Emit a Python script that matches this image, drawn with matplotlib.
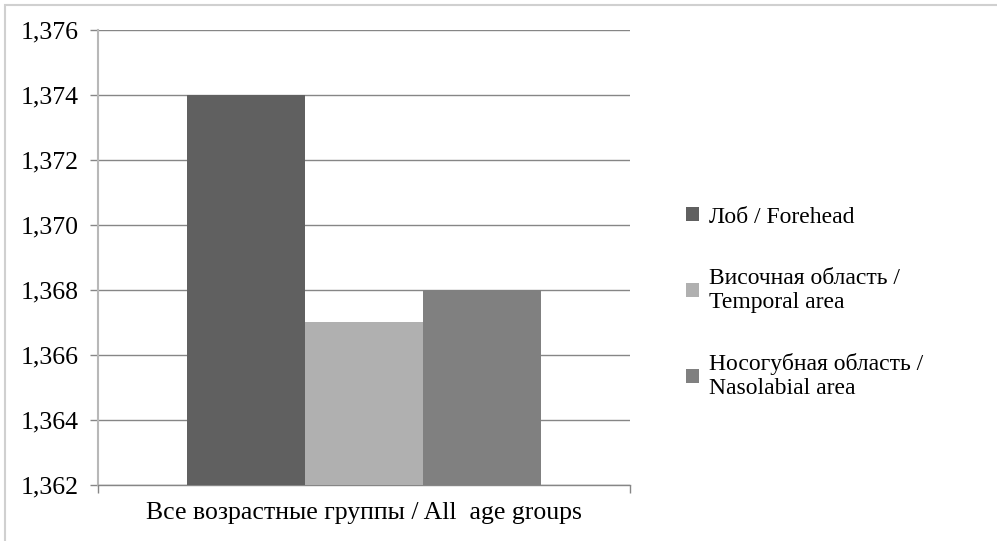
import matplotlib as mpl
mpl.use('Agg')
import matplotlib.pyplot as plt
from matplotlib.patches import Rectangle
from matplotlib.ticker import FuncFormatter, MultipleLocator

category = 'Все возрастные группы / All  age groups'
series = ['Лоб / Forehead',
          'Височная область /\nTemporal area',
          'Носогубная область /\nNasolabial area']
values = [1.374, 1.367, 1.368]
colors = ['#606060', '#b0b0b0', '#808080']

plt.rcParams['font.family'] = ['Liberation Serif', 'DejaVu Serif']

fig = plt.figure(figsize=(9.97, 5.41), dpi=100)
ax = fig.add_axes([98/997, 1-485/541, 532/997, 455/541])

# outer chart frame
fig.patches.append(Rectangle((5/997, -0.1), 1.2, 1-5/541+0.1, transform=fig.transFigure,
                             fill=False, edgecolor='#d0d0d0', linewidth=1.5))

ymin = 1.362
bw = 0.222
for i, (lab, v, c) in enumerate(zip(series, values, colors)):
    ax.bar((i-1)*bw, v-ymin, bottom=ymin, width=bw, color=c, label=lab, zorder=3)

ax.set_xlim(-0.5, 0.5)
ax.set_ylim(1.362, 1.376)
ax.yaxis.set_major_locator(MultipleLocator(0.002))
ax.yaxis.set_major_formatter(FuncFormatter(lambda v, p: f'{v:.3f}'.replace('.', ',')))
ax.grid(axis='y', color='#868686', linewidth=1.0, zorder=0)

for s in ['top', 'right']:
    ax.spines[s].set_visible(False)
ax.spines['left'].set_color('#b8b8b8')
ax.spines['left'].set_linewidth(1.5)
ax.spines['bottom'].set_color('#868686')
ax.spines['bottom'].set_linewidth(1.0)

ax.tick_params(axis='y', length=6, width=1, color='#868686', pad=8, labelsize=18.5)
ax.set_xticks([0])
ax.set_xticklabels([category])
ax.set_xticks([-0.5, 0.5], minor=True)
ax.tick_params(axis='x', which='major', length=0, pad=12, labelsize=18.5)
ax.tick_params(axis='x', which='minor', length=6, width=1, color='#868686')

leg = ax.legend(loc='center left', bbox_to_anchor=(1.105, 0.40), frameon=False,
                fontsize=17, handlelength=0.55, handleheight=0.55, handletextpad=0.45,
                labelspacing=1.7, borderpad=0, borderaxespad=0)

fig.savefig('out.png', dpi=100)
